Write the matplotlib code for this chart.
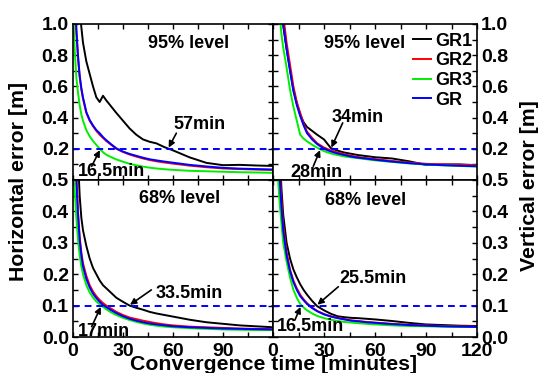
import matplotlib
matplotlib.use("Agg")
import matplotlib.pyplot as plt
from matplotlib.ticker import MultipleLocator, FuncFormatter

plt.rcParams["font.family"] = ["Liberation Sans", "DejaVu Sans"]
plt.rcParams["font.weight"] = "bold"

# convergence time grid [minutes]
minutes = [0, 1, 2, 3, 4, 5, 6, 8, 10, 12, 14, 16, 18, 20, 23, 26, 30, 34, 38, 42,
           46, 50, 55, 60, 70, 80, 90, 100, 110, 120]

# horizontal error, 95% level
h95_gr1 = [3.0, 2.0, 1.6, 1.3, 1.1, 0.98, 0.88, 0.76, 0.68, 0.6, 0.53, 0.5, 0.54, 0.51, 0.47,
           0.43, 0.38, 0.33, 0.29, 0.26, 0.245, 0.235, 0.21, 0.19, 0.145, 0.11, 0.095, 0.097, 0.093, 0.09]
h95_gr2 = [2.4, 1.25, 0.95, 0.78, 0.66, 0.58, 0.52, 0.43, 0.38, 0.345, 0.315, 0.29, 0.27, 0.25, 0.225,
           0.2, 0.18, 0.163, 0.15, 0.138, 0.128, 0.12, 0.112, 0.105, 0.092, 0.082, 0.074, 0.07, 0.067, 0.065]
h95_gr3 = [1.1, 0.84, 0.66, 0.56, 0.48, 0.42, 0.38, 0.32, 0.28, 0.25, 0.225, 0.2, 0.178, 0.162, 0.146,
           0.132, 0.117, 0.104, 0.094, 0.086, 0.079, 0.074, 0.069, 0.065, 0.059, 0.056, 0.053, 0.05, 0.048, 0.046]
h95_gr = [2.5, 1.3, 0.97, 0.8, 0.67, 0.59, 0.53, 0.435, 0.385, 0.35, 0.32, 0.3, 0.275, 0.255, 0.228,
          0.203, 0.182, 0.167, 0.155, 0.143, 0.133, 0.126, 0.118, 0.111, 0.097, 0.087, 0.078, 0.073, 0.07, 0.067]

# vertical error, 95% level
v95_gr1 = [3.5, 2.7, 2.1, 1.6, 1.3, 1.1, 0.99, 0.84, 0.71, 0.58, 0.49, 0.42, 0.37, 0.34, 0.315,
           0.29, 0.26, 0.205, 0.188, 0.176, 0.168, 0.16, 0.153, 0.146, 0.138, 0.12, 0.097, 0.1, 0.1, 0.095]
v95_gr2 = [3.6, 2.9, 2.3, 1.8, 1.45, 1.2, 1.06, 0.88, 0.74, 0.6, 0.5, 0.43, 0.36, 0.31, 0.27,
           0.235, 0.208, 0.19, 0.176, 0.165, 0.155, 0.148, 0.14, 0.134, 0.122, 0.112, 0.104, 0.1, 0.097, 0.095]
v95_gr3 = [3.0, 2.2, 1.6, 1.25, 1.05, 0.93, 0.85, 0.72, 0.58, 0.47, 0.38, 0.29, 0.265, 0.248, 0.226,
           0.207, 0.185, 0.17, 0.16, 0.151, 0.145, 0.14, 0.133, 0.126, 0.116, 0.106, 0.099, 0.094, 0.09, 0.086]
v95_gr = [3.5, 2.8, 2.2, 1.7, 1.35, 1.12, 1.0, 0.84, 0.7, 0.57, 0.48, 0.41, 0.35, 0.3, 0.26,
          0.23, 0.2, 0.183, 0.17, 0.16, 0.15, 0.143, 0.137, 0.13, 0.118, 0.108, 0.1, 0.095, 0.091, 0.088]

# horizontal error, 68% level
h68_gr1 = [1.5, 1.0, 0.75, 0.57, 0.45, 0.38, 0.34, 0.29, 0.25, 0.22, 0.2, 0.18, 0.165, 0.155, 0.14,
           0.125, 0.112, 0.1, 0.093, 0.087, 0.08, 0.075, 0.07, 0.065, 0.055, 0.047, 0.042, 0.037, 0.034, 0.031]
h68_gr2 = [1.2, 0.7, 0.52, 0.4, 0.32, 0.27, 0.235, 0.195, 0.165, 0.145, 0.13, 0.118, 0.108, 0.1, 0.09,
           0.08, 0.07, 0.062, 0.057, 0.052, 0.048, 0.044, 0.04, 0.037, 0.033, 0.031, 0.029, 0.027, 0.026, 0.025]
h68_gr3 = [0.65, 0.47, 0.38, 0.31, 0.26, 0.225, 0.2, 0.165, 0.142, 0.126, 0.113, 0.104, 0.096, 0.088, 0.078,
           0.07, 0.061, 0.054, 0.048, 0.043, 0.039, 0.036, 0.033, 0.031, 0.028, 0.026, 0.024, 0.023, 0.022, 0.022]
h68_gr = [1.1, 0.65, 0.5, 0.39, 0.31, 0.26, 0.225, 0.185, 0.158, 0.138, 0.124, 0.112, 0.102, 0.095, 0.085,
          0.076, 0.066, 0.058, 0.052, 0.047, 0.043, 0.04, 0.037, 0.034, 0.031, 0.029, 0.027, 0.026, 0.025, 0.024]

# vertical error, 68% level
v68_gr1 = [2.0, 1.5, 1.1, 0.8, 0.58, 0.47, 0.39, 0.3, 0.25, 0.215, 0.19, 0.168, 0.15, 0.135, 0.115,
           0.098, 0.085, 0.074, 0.066, 0.063, 0.061, 0.06, 0.058, 0.056, 0.051, 0.045, 0.04, 0.038, 0.036, 0.035]
v68_gr2 = [1.9, 1.4, 1.0, 0.7, 0.53, 0.43, 0.355, 0.27, 0.215, 0.18, 0.155, 0.135, 0.12, 0.108, 0.094,
           0.083, 0.073, 0.066, 0.061, 0.057, 0.053, 0.051, 0.048, 0.046, 0.042, 0.039, 0.037, 0.035, 0.034, 0.033]
v68_gr3 = [1.2, 0.85, 0.6, 0.5, 0.42, 0.36, 0.3, 0.24, 0.19, 0.15, 0.125, 0.105, 0.094, 0.085, 0.075,
           0.067, 0.06, 0.055, 0.051, 0.048, 0.046, 0.044, 0.042, 0.04, 0.037, 0.035, 0.034, 0.033, 0.032, 0.032]
v68_gr = [1.8, 1.3, 0.9, 0.65, 0.5, 0.41, 0.34, 0.26, 0.21, 0.175, 0.15, 0.13, 0.117, 0.105, 0.092,
          0.082, 0.072, 0.065, 0.06, 0.056, 0.052, 0.05, 0.047, 0.045, 0.041, 0.038, 0.036, 0.034, 0.033, 0.032]

labels = ["GR1", "GR2", "GR3", "GR"]
colors = ["black", "#ff0000", "#00ee00", "#0000ff"]

# convergence marks: (minutes, threshold)
h95_marks = [57, 16.5]
v95_marks = [34, 28]
h68_marks = [33.5, 17]
v68_marks = [25.5, 16.5]

fig = plt.figure(figsize=(5.4, 3.73), dpi=100)
ax_tl = fig.add_axes([73 / 540, 1 - 180 / 373, 200 / 540, 156 / 373])
ax_tr = fig.add_axes([273 / 540, 1 - 180 / 373, 204 / 540, 156 / 373])
ax_bl = fig.add_axes([73 / 540, 1 - 337 / 373, 200 / 540, 157 / 373])
ax_br = fig.add_axes([273 / 540, 1 - 337 / 373, 204 / 540, 157 / 373])


def no_zero(v, p):
    return "" if abs(v) < 1e-9 else f"{v:.1f}"


def no_120(v, p):
    return "" if v > 119 else f"{v:.0f}"


def mark(ax, t, level, text_xy, tail_xy):
    ax.annotate("", xy=(t, level), xytext=tail_xy,
                arrowprops=dict(arrowstyle="-|>", color="black", lw=1.2,
                                mutation_scale=9, shrinkA=0, shrinkB=1))
    ax.text(text_xy[0], text_xy[1], f"{t:g}min", ha="center", va="center",
            fontsize=13, fontweight="bold")


panels = [
    (ax_tl, [h95_gr1, h95_gr2, h95_gr3, h95_gr], 0.2, "95% level", (0.58, 0.878)),
    (ax_tr, [v95_gr1, v95_gr2, v95_gr3, v95_gr], 0.2, "95% level", (0.45, 0.878)),
    (ax_bl, [h68_gr1, h68_gr2, h68_gr3, h68_gr], 0.1, "68% level", (0.535, 0.879)),
    (ax_br, [v68_gr1, v68_gr2, v68_gr3, v68_gr], 0.1, "68% level", (0.456, 0.868)),
]

for ax, series, level, title, title_pos in panels:
    for ys, lab, c in zip(series, labels, colors):
        ax.plot(minutes, ys, color=c, lw=1.4, label=lab)
    ax.axhline(level, color="#0000ff", lw=1.4, linestyle=(0, (3.5, 2.5)))
    ax.text(title_pos[0], title_pos[1], title, transform=ax.transAxes,
            ha="center", va="center", fontsize=13, fontweight="bold")
    ax.set_xlim(0, 120)
    ax.xaxis.set_major_locator(MultipleLocator(30))
    ax.xaxis.set_minor_locator(MultipleLocator(15))
    for s in ax.spines.values():
        s.set_linewidth(1.2)
    ax.tick_params(which="both", direction="in", top=True, bottom=True,
                   left=True, right=True, length=3.5, width=1.0, labelsize=14)
    ax.tick_params(axis="x", pad=4)
    ax.tick_params(axis="y", pad=3)

for ax in (ax_tl, ax_tr):
    ax.set_ylim(0, 1.0)
    ax.yaxis.set_major_locator(MultipleLocator(0.2))
    ax.yaxis.set_minor_locator(MultipleLocator(0.1))
    ax.yaxis.set_major_formatter(FuncFormatter(no_zero))
    ax.tick_params(axis="x", labelbottom=False)

for ax in (ax_bl, ax_br):
    ax.set_ylim(0, 0.5)
    ax.yaxis.set_major_locator(MultipleLocator(0.1))
    ax.yaxis.set_minor_locator(MultipleLocator(0.05))
    ax.yaxis.set_major_formatter(FuncFormatter(lambda v, p: f"{v:.1f}"))

ax_bl.xaxis.set_major_formatter(FuncFormatter(no_120))
for ax in (ax_tr, ax_br):
    ax.tick_params(axis="y", labelleft=False, labelright=True)

mark(ax_tl, h95_marks[0], 0.2, (75.6, 0.355), (62, 0.30))
mark(ax_tl, h95_marks[1], 0.2, (23, 0.054), (11.2, 0.088))
mark(ax_tr, v95_marks[0], 0.2, (50, 0.40), (41, 0.366))
mark(ax_tr, v95_marks[1], 0.2, (25.4, 0.047), (23.7, 0.088))
mark(ax_bl, h68_marks[0], 0.1, (69.5, 0.139), (47, 0.15))
mark(ax_bl, h68_marks[1], 0.1, (18.6, 0.017), (11.2, 0.033))
mark(ax_br, v68_marks[0], 0.1, (58.6, 0.187), (38.4, 0.16))
mark(ax_br, v68_marks[1], 0.1, (21.8, 0.033), (12.9, 0.054))

ax_tr.legend(loc="upper right", bbox_to_anchor=(0.975, 0.945), frameon=False,
             fontsize=13, handlelength=1.0, handletextpad=0.2, labelspacing=0.15,
             borderaxespad=0, borderpad=0)

fig.text(274 / 540, 1 - 370 / 373, "Convergence time [minutes]", ha="center",
         va="baseline", fontsize=15.3, fontweight="bold")
fig.text(18.5 / 540, 1 - 181 / 373, "Horizontal error [m]", rotation=90,
         ha="center", va="center", fontsize=15.3, fontweight="bold")
fig.text(529.5 / 540, 1 - 186 / 373, "Vertical error [m]", rotation=90,
         ha="center", va="center", fontsize=15.3, fontweight="bold")

fig.savefig("out.png", dpi=100)
